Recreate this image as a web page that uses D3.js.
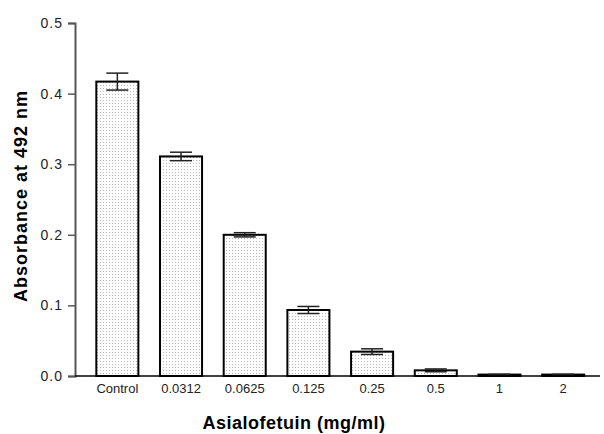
<!DOCTYPE html>
<html><head><meta charset="utf-8">
<script src="https://cdn.jsdelivr.net/npm/d3@7"></script>
<style>body{margin:0;background:#fff}svg{display:block}</style>
</head><body>
<script>
const categories = ["Control","0.0312","0.0625","0.125","0.25","0.5","1","2"];
const values = [0.417,0.311,0.200,0.0935,0.0345,0.008,0.002,0.002];
const errors = [0.012,0.006,0.003,0.005,0.004,0.002,0.0005,0.0005];
const yTicks = [0,0.1,0.2,0.3,0.4,0.5];

const W=604,H=434;
const FONT="Liberation Sans, Arial, sans-serif";
const svg=d3.select("body").append("svg").attr("width",W).attr("height",H);
const defs=svg.append("defs");
const pat=defs.append("pattern").attr("id","dots").attr("width",3).attr("height",3).attr("patternUnits","userSpaceOnUse");
pat.append("rect").attr("width",3).attr("height",3).attr("fill","#fff");
pat.append("rect").attr("x",1).attr("y",1).attr("width",1).attr("height",1).attr("fill","#b8b8b8");

const y=d3.scaleLinear().domain([0,0.5]).range([376,23]);
const x=d3.scaleBand().domain(categories).range([85.5,595]).paddingInner(0.34).paddingOuter(0.17);

// bars
svg.selectAll("rect.bar").data(values).join("rect").attr("class","bar")
 .attr("x",(d,i)=>x(categories[i])).attr("width",x.bandwidth())
 .attr("y",d=>y(d)).attr("height",d=>y(0)-y(d))
 .attr("fill","url(#dots)").attr("stroke","#000").attr("stroke-width",2);

// error bars
const eb=svg.append("g").attr("stroke","#222").attr("stroke-width",1.5);
values.forEach((v,i)=>{
  const cx=x(categories[i])+x.bandwidth()/2;
  const hw=11;
  eb.append("line").attr("x1",cx).attr("x2",cx).attr("y1",y(v-errors[i])).attr("y2",y(v+errors[i]));
  eb.append("line").attr("x1",cx-hw).attr("x2",cx+hw).attr("y1",y(v+errors[i])).attr("y2",y(v+errors[i]));
  eb.append("line").attr("x1",cx-hw).attr("x2",cx+hw).attr("y1",y(v-errors[i])).attr("y2",y(v-errors[i]));
});

// y axis
const ya=svg.append("g").attr("transform","translate(75,0)")
 .call(d3.axisLeft(y).tickValues(yTicks).tickFormat(d3.format(".1f")).tickSize(7).tickPadding(5));
ya.select(".domain").attr("stroke","#555").attr("stroke-width",2);
ya.selectAll(".tick line").attr("stroke","#555").attr("stroke-width",1.5);
ya.selectAll("text").attr("font-family",FONT).attr("font-size",14).attr("letter-spacing",1).attr("fill","#222");

// x axis
const xa=svg.append("g").attr("transform","translate(0,376)")
 .call(d3.axisBottom(x).tickSize(0).tickPadding(7));
xa.select(".domain").attr("d","M75,0H600").attr("stroke","#000").attr("stroke-width",1.5);
xa.selectAll("text").attr("font-family",FONT).attr("font-size",13).attr("fill","#222").attr("y",16.5).attr("dy","0");

svg.append("text").attr("x",294).attr("y",429).attr("text-anchor","middle")
 .attr("font-family",FONT).attr("font-weight","bold").attr("font-size",18).attr("letter-spacing",0.5).text("Asialofetuin (mg/ml)");
svg.append("text").attr("transform","translate(27,196) rotate(-90)").attr("text-anchor","middle")
 .attr("font-family",FONT).attr("font-weight","bold").attr("font-size",18).attr("letter-spacing",1).text("Absorbance at  492 nm");
</script>
</body></html>
